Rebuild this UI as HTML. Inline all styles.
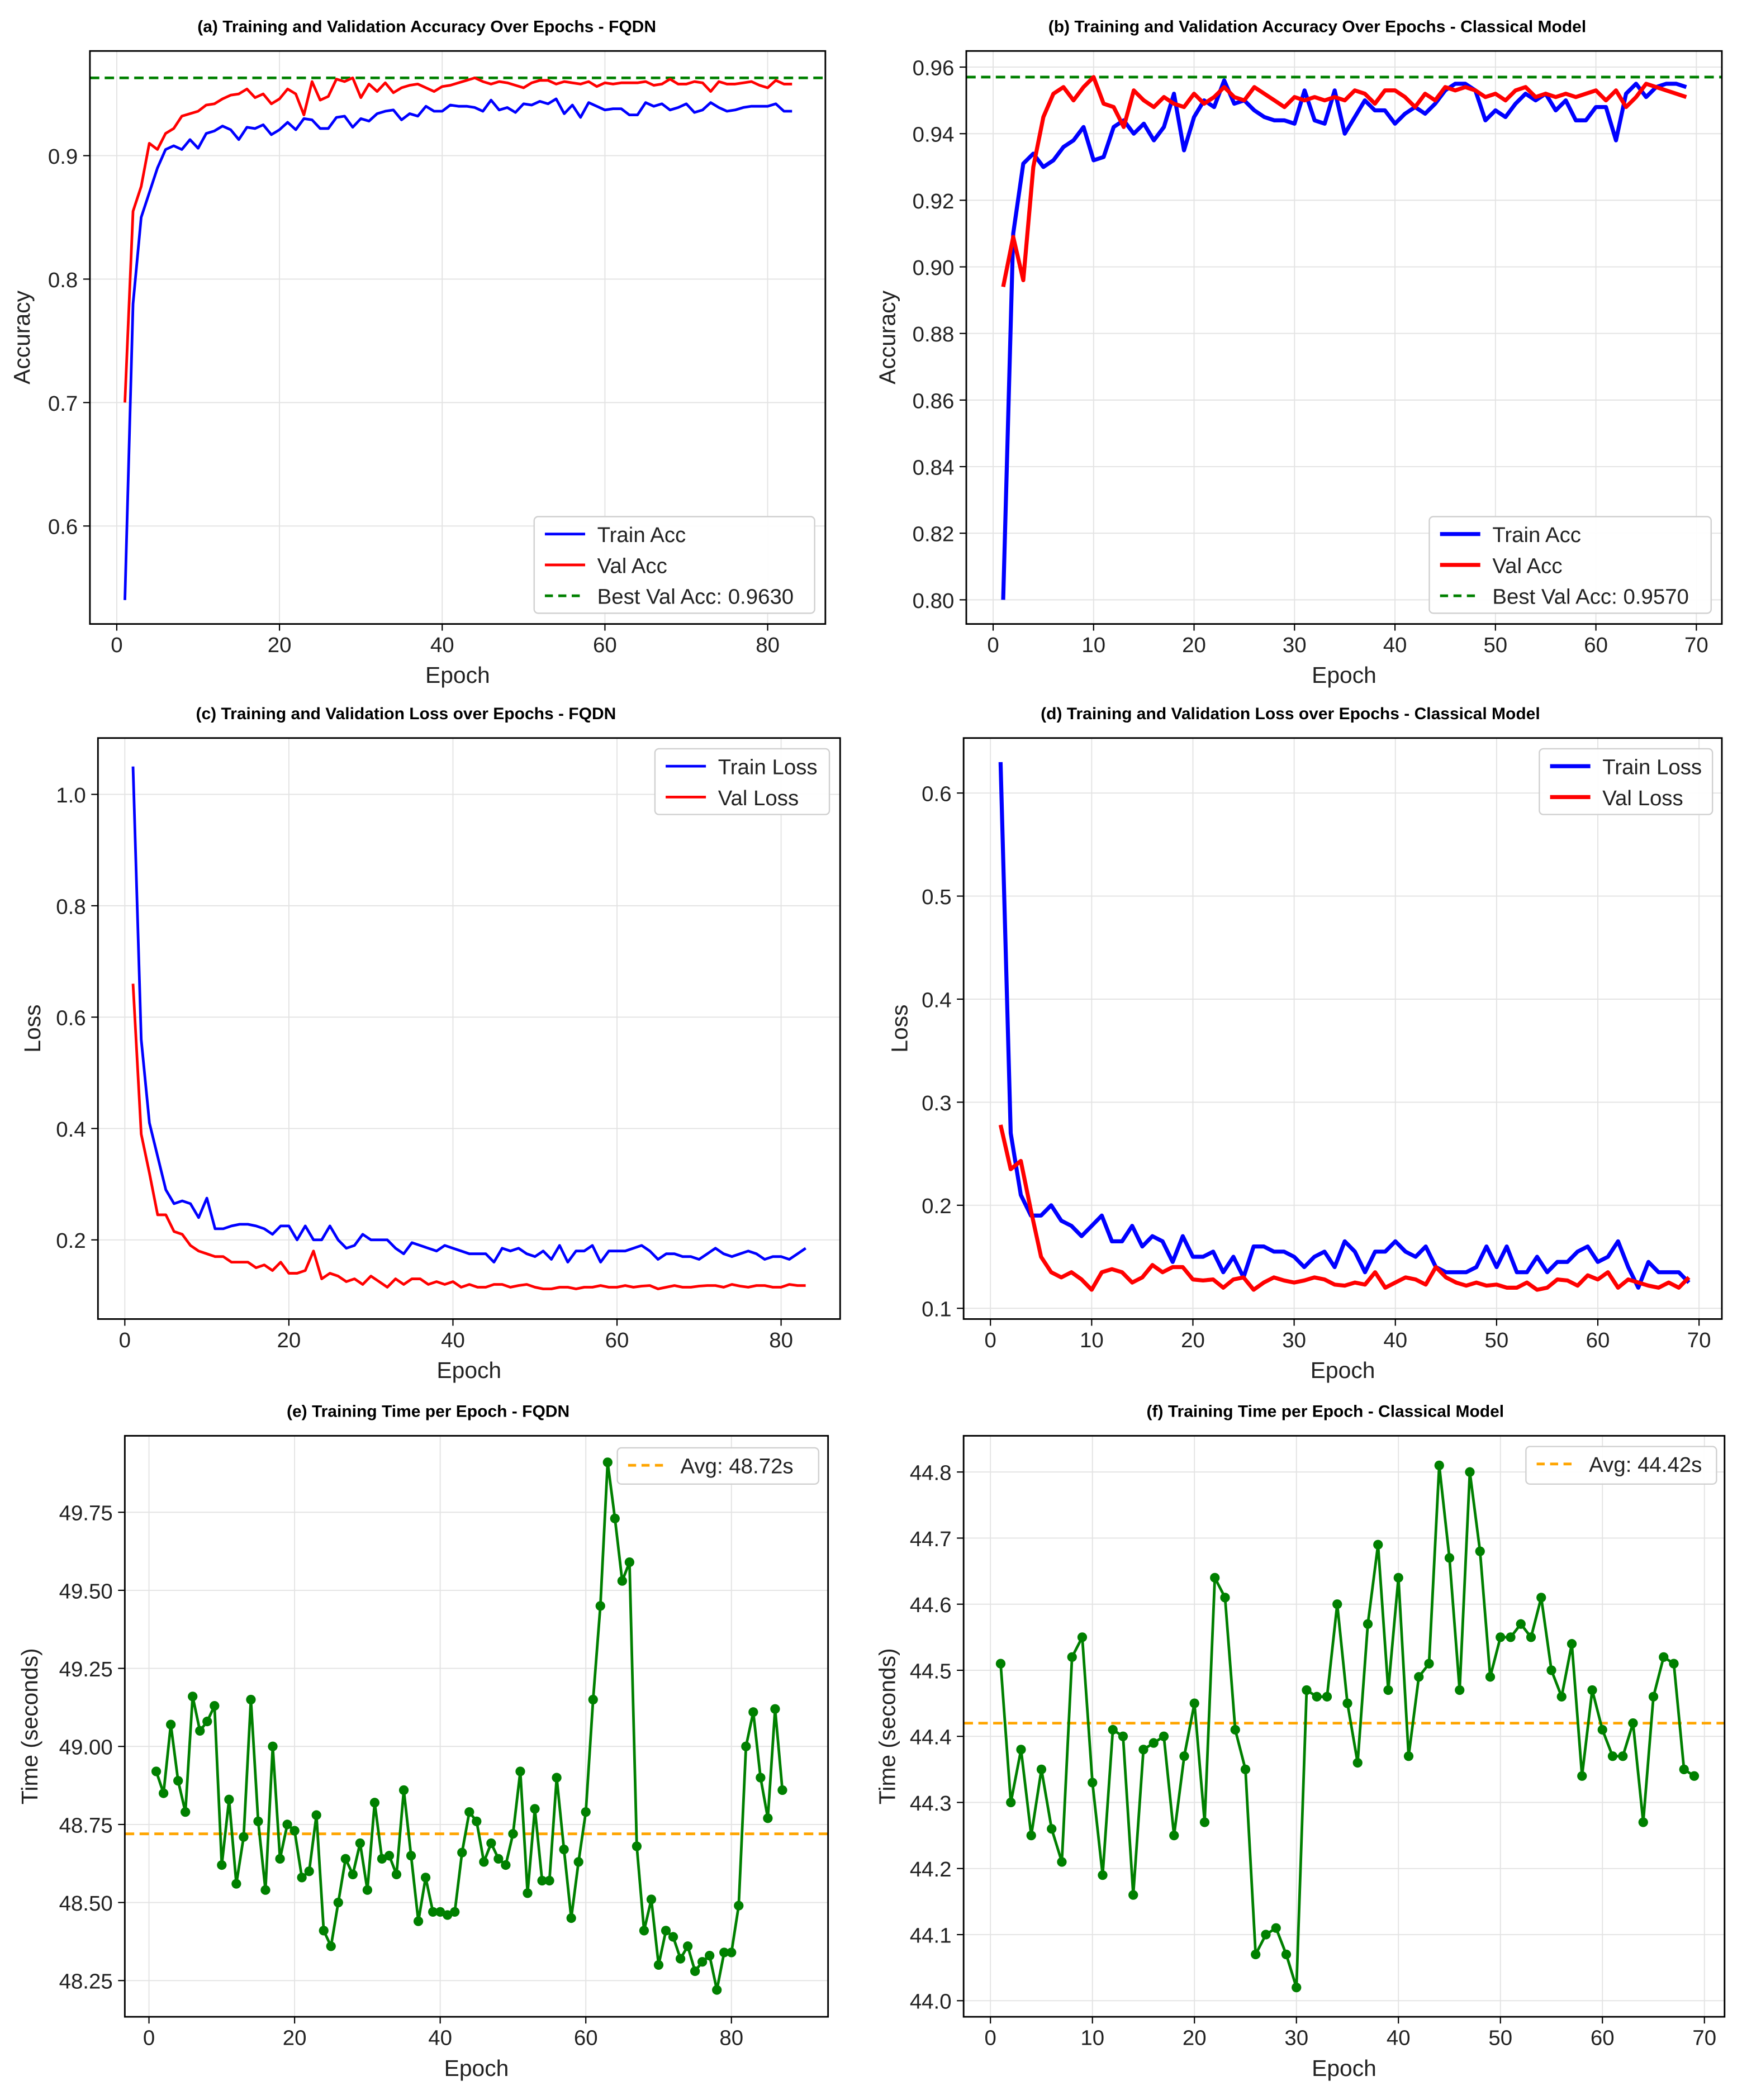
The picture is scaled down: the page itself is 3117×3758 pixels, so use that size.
<!DOCTYPE html>
<html><head><meta charset="utf-8">
<style>
html,body{margin:0;padding:0;background:#fff;}
svg{display:block;}
text{font-family:"Liberation Sans",sans-serif;}
</style></head>
<body>
<svg id="fig" width="3117" height="3758" viewBox="0 0 1298 1565" preserveAspectRatio="none" xmlns="http://www.w3.org/2000/svg"></svg>
<script>
// ---- Data ----
const accFqdnTrain=[0.54,0.78,0.85,0.87,0.89,0.905,0.908,0.905,0.913,0.906,0.918,0.92,0.924,0.921,0.913,0.923,0.922,0.925,0.917,0.921,0.927,0.921,0.93,0.929,0.922,0.922,0.931,0.932,0.923,0.93,0.928,0.934,0.936,0.937,0.929,0.934,0.932,0.94,0.936,0.936,0.941,0.94,0.94,0.939,0.936,0.945,0.937,0.939,0.935,0.942,0.941,0.944,0.942,0.946,0.934,0.941,0.931,0.943,0.94,0.937,0.938,0.938,0.933,0.933,0.943,0.94,0.942,0.937,0.939,0.942,0.935,0.937,0.943,0.939,0.936,0.937,0.939,0.94,0.94,0.94,0.942,0.936,0.936];
const accFqdnVal=[0.70,0.855,0.875,0.91,0.905,0.918,0.922,0.932,0.934,0.936,0.941,0.942,0.946,0.949,0.95,0.954,0.947,0.95,0.942,0.946,0.954,0.95,0.933,0.96,0.945,0.948,0.962,0.96,0.963,0.947,0.958,0.952,0.959,0.951,0.955,0.957,0.958,0.955,0.952,0.956,0.957,0.959,0.961,0.963,0.96,0.958,0.96,0.959,0.957,0.955,0.959,0.961,0.961,0.958,0.96,0.959,0.958,0.96,0.956,0.959,0.958,0.959,0.959,0.959,0.96,0.957,0.958,0.962,0.958,0.958,0.96,0.959,0.952,0.96,0.958,0.958,0.959,0.96,0.957,0.955,0.961,0.958,0.958];
const accFqdnBest=0.9630;
const accClsTrain=[0.80,0.91,0.931,0.934,0.93,0.932,0.936,0.938,0.942,0.932,0.933,0.942,0.944,0.94,0.943,0.938,0.942,0.952,0.935,0.945,0.95,0.948,0.956,0.949,0.95,0.947,0.945,0.944,0.944,0.943,0.953,0.944,0.943,0.953,0.94,0.945,0.95,0.947,0.947,0.943,0.946,0.948,0.946,0.949,0.953,0.955,0.955,0.953,0.944,0.947,0.945,0.949,0.952,0.95,0.952,0.947,0.95,0.944,0.944,0.948,0.948,0.938,0.952,0.955,0.951,0.954,0.955,0.955,0.954];
const accClsVal=[0.894,0.909,0.896,0.93,0.945,0.952,0.954,0.95,0.954,0.957,0.949,0.948,0.942,0.953,0.95,0.948,0.951,0.949,0.948,0.952,0.949,0.951,0.954,0.951,0.95,0.954,0.952,0.95,0.948,0.951,0.95,0.951,0.95,0.951,0.95,0.953,0.952,0.949,0.953,0.953,0.951,0.948,0.952,0.95,0.954,0.953,0.954,0.953,0.951,0.952,0.95,0.953,0.954,0.951,0.952,0.951,0.952,0.951,0.952,0.953,0.95,0.953,0.948,0.951,0.955,0.954,0.953,0.952,0.951];
const accClsBest=0.9570;
const lossFqdnTrain=[1.05,0.56,0.41,0.35,0.29,0.265,0.27,0.265,0.24,0.275,0.22,0.22,0.225,0.228,0.228,0.225,0.22,0.21,0.225,0.225,0.2,0.225,0.2,0.2,0.225,0.2,0.185,0.19,0.21,0.2,0.2,0.2,0.185,0.175,0.195,0.19,0.185,0.18,0.19,0.185,0.18,0.175,0.175,0.175,0.16,0.185,0.18,0.185,0.175,0.17,0.18,0.165,0.19,0.16,0.18,0.18,0.19,0.16,0.18,0.18,0.18,0.185,0.19,0.18,0.165,0.175,0.175,0.17,0.17,0.165,0.175,0.185,0.175,0.17,0.175,0.18,0.175,0.165,0.17,0.17,0.165,0.175,0.185];
const lossFqdnVal=[0.66,0.39,0.32,0.245,0.245,0.215,0.21,0.19,0.18,0.175,0.17,0.17,0.16,0.16,0.16,0.15,0.155,0.145,0.16,0.14,0.14,0.145,0.18,0.13,0.14,0.135,0.125,0.13,0.12,0.135,0.125,0.115,0.13,0.12,0.13,0.13,0.12,0.125,0.12,0.125,0.115,0.12,0.115,0.115,0.12,0.12,0.115,0.118,0.12,0.115,0.112,0.112,0.115,0.115,0.112,0.115,0.115,0.118,0.115,0.115,0.118,0.115,0.117,0.118,0.112,0.115,0.118,0.115,0.115,0.117,0.118,0.118,0.115,0.12,0.117,0.115,0.118,0.118,0.115,0.115,0.12,0.118,0.118];
const lossClsTrain=[0.63,0.27,0.21,0.19,0.19,0.2,0.185,0.18,0.17,0.18,0.19,0.165,0.165,0.18,0.16,0.17,0.165,0.145,0.17,0.15,0.15,0.155,0.135,0.15,0.13,0.16,0.16,0.155,0.155,0.15,0.14,0.15,0.155,0.14,0.165,0.155,0.135,0.155,0.155,0.165,0.155,0.15,0.16,0.14,0.135,0.135,0.135,0.14,0.16,0.14,0.16,0.135,0.135,0.15,0.135,0.145,0.145,0.155,0.16,0.145,0.15,0.165,0.14,0.12,0.145,0.135,0.135,0.135,0.125];
const lossClsVal=[0.278,0.235,0.243,0.195,0.15,0.135,0.13,0.135,0.128,0.118,0.135,0.138,0.135,0.125,0.13,0.142,0.135,0.14,0.14,0.128,0.127,0.128,0.12,0.128,0.13,0.118,0.125,0.13,0.127,0.125,0.127,0.13,0.128,0.123,0.122,0.125,0.123,0.135,0.12,0.125,0.13,0.128,0.123,0.14,0.13,0.125,0.122,0.125,0.122,0.123,0.12,0.12,0.125,0.118,0.12,0.128,0.127,0.122,0.132,0.128,0.135,0.12,0.128,0.125,0.122,0.12,0.125,0.12,0.13];
const timeFqdn=[48.92,48.85,49.07,48.89,48.79,49.16,49.05,49.08,49.13,48.62,48.83,48.56,48.71,49.15,48.76,48.54,49.0,48.64,48.75,48.73,48.58,48.6,48.78,48.41,48.36,48.5,48.64,48.59,48.69,48.54,48.82,48.64,48.65,48.59,48.86,48.65,48.44,48.58,48.47,48.47,48.46,48.47,48.66,48.79,48.76,48.63,48.69,48.64,48.62,48.72,48.92,48.53,48.8,48.57,48.57,48.9,48.67,48.45,48.63,48.79,49.15,49.45,49.91,49.73,49.53,49.59,48.68,48.41,48.51,48.3,48.41,48.39,48.32,48.36,48.28,48.31,48.33,48.22,48.34,48.34,48.49,49.0,49.11,48.9,48.77,49.12,48.86];
const timeFqdnAvg=48.72;
const timeCls=[44.51,44.3,44.38,44.25,44.35,44.26,44.21,44.52,44.55,44.33,44.19,44.41,44.4,44.16,44.38,44.39,44.4,44.25,44.37,44.45,44.27,44.64,44.61,44.41,44.35,44.07,44.1,44.11,44.07,44.02,44.47,44.46,44.46,44.6,44.45,44.36,44.57,44.69,44.47,44.64,44.37,44.49,44.51,44.81,44.67,44.47,44.8,44.68,44.49,44.55,44.55,44.57,44.55,44.61,44.5,44.46,44.54,44.34,44.47,44.41,44.37,44.37,44.42,44.27,44.46,44.52,44.51,44.35,44.34];
const timeClsAvg=44.42;
const ticksX_a=[0,20,40,60,80], ticksY_a=[0.6,0.7,0.8,0.9];
const ticksX_b=[0,10,20,30,40,50,60,70], ticksY_b=[0.80,0.82,0.84,0.86,0.88,0.90,0.92,0.94,0.96];
const ticksX_c=[0,20,40,60,80], ticksY_c=[0.2,0.4,0.6,0.8,1.0];
const ticksX_d=[0,10,20,30,40,50,60,70], ticksY_d=[0.1,0.2,0.3,0.4,0.5,0.6];
const ticksX_e=[0,20,40,60,80], ticksY_e=[48.25,48.5,48.75,49.0,49.25,49.5,49.75];
const ticksX_f=[0,10,20,30,40,50,60,70], ticksY_f=[44.0,44.1,44.2,44.3,44.4,44.5,44.6,44.7,44.8];

const NS="http://www.w3.org/2000/svg";
const svg=document.getElementById('fig');
function mk(tag,attrs,parent){const e=document.createElementNS(NS,tag);for(const k in attrs)e.setAttribute(k,attrs[k]);(parent||svg).appendChild(e);return e;}

function panel(o){
  const g=mk('g',{});
  
  
  const X=v=>o.x0px+(v-o.x0v)*(o.x1px-o.x0px)/(o.x1v-o.x0v);
  const Y=v=>o.y0px+(v-o.y0v)*(o.y1px-o.y0px)/(o.y1v-o.y0v);
  const [L,T,R,B]=o.box;
  o.xt.forEach(t=>{
    const l=mk('line',{x1:X(t),x2:X(t),y1:T,y2:B,stroke:'#e3e3e3','stroke-width':0.8},g);
    
    mk('line',{x1:X(t),x2:X(t),y1:B,y2:B+5,stroke:'#000','stroke-width':0.9},g);
    const tx=mk('text',{x:X(t),y:B+21,'font-size':16,'text-anchor':'middle',fill:'#222'},g);tx.textContent=String(t);
    
  });
  o.yt.forEach(t=>{
    const l=mk('line',{x1:L,x2:R,y1:Y(t),y2:Y(t),stroke:'#e3e3e3','stroke-width':0.8},g);
    
    mk('line',{x1:L-5,x2:L,y1:Y(t),y2:Y(t),stroke:'#000','stroke-width':0.9},g);
    const tx=mk('text',{x:L-9,y:Y(t)+6,'font-size':16,'text-anchor':'end',fill:'#222'},g);tx.textContent=o.yfmt(t);
    
  });
  const cp='clip-'+o.name;
  const defs=mk('defs',{},g);const c=mk('clipPath',{id:cp},defs);mk('rect',{x:L,y:T,width:R-L,height:B-T},c);
  const plot=mk('g',{'clip-path':'url(#'+cp+')'},g);
  (o.hlines||[]).forEach(h=>{
    const l=mk('line',{x1:L,x2:R,y1:Y(h.v),y2:Y(h.v),stroke:h.color,'stroke-width':2,'stroke-dasharray':'7,4'},plot);
    
  });
  o.series.forEach(s=>{
    const pts=s.data.map((v,i)=>X(i+1).toFixed(2)+','+Y(v).toFixed(2)).join(' ');
    const p=mk('polyline',{points:pts,fill:'none',stroke:s.color,'stroke-width':s.w,'stroke-linejoin':'round'},plot);
    
    if(s.markers){s.data.forEach((v,i)=>{const m=mk('circle',{cx:X(i+1),cy:Y(v),r:3.6,fill:s.color},plot);
      });}
  });
  const fr=mk('rect',{x:L,y:T,width:R-L,height:B-T,fill:'none',stroke:'#000','stroke-width':1.2},g);
  
  const ti=mk('text',{x:(L+R)/2+o.titleDx,y:T-14,'font-size':12.5,'font-weight':'bold','text-anchor':'middle',fill:'#000'},g);
  ti.textContent=o.title;
  const xl=mk('text',{x:(L+R)/2,y:B+44,'font-size':17,'text-anchor':'middle',fill:'#222'},g);
  xl.textContent='Epoch';
  const yl=mk('text',{x:0,y:0,'font-size':17,'text-anchor':'middle',fill:'#222',transform:`translate(${o.ylx},${(T+B)/2}) rotate(-90)`},g);
  yl.textContent=o.ylabel;
  const [lx,ly,lw,lh]=o.leg;
  const lg=mk('g',{},g);
  mk('rect',{x:lx,y:ly,width:lw,height:lh,rx:3,fill:'#fff','fill-opacity':0.9,stroke:'#d0d0d0','stroke-width':1},lg);
  o.legItems.forEach((it,i)=>{
    const yy=ly+13+i*23;
    const e=mk('g',{},lg);
    mk('line',{x1:lx+8,x2:lx+38,y1:yy,y2:yy,stroke:it.color,'stroke-width':it.w,'stroke-dasharray':it.dash||'none'},e);
    const t=mk('text',{x:lx+47,y:yy+6,'font-size':16,fill:'#222'},e);t.textContent=it.label;
  });
}
const f2=v=>v.toFixed(2), f1=v=>v.toFixed(1);
panel({name:'panel-a-accuracy-fqdn',box:[67,38,615,465],x0v:0,x0px:87,x1v:80,x1px:572,y0v:0.6,y0px:392,y1v:0.9,y1px:116,
  xt:ticksX_a,yt:ticksY_a,yfmt:f1,title:'(a) Training and Validation Accuracy Over Epochs - FQDN',titleDx:-23,ylabel:'Accuracy',ylx:22,
  hlines:[{v:accFqdnBest,color:'#008000',name:'best-val-line'}],
  series:[{data:accFqdnTrain,color:'#0000ff',w:2,name:'train-acc-line'},{data:accFqdnVal,color:'#ff0000',w:2,name:'val-acc-line'}],
  leg:[398,385,209,72],legItems:[{label:'Train Acc',color:'#0000ff',w:2},{label:'Val Acc',color:'#ff0000',w:2},{label:'Best Val Acc: 0.9630',color:'#008000',w:2,dash:'6,4'}]});
panel({name:'panel-b-accuracy-classical',box:[720,38,1283,465],x0v:0,x0px:740,x1v:70,x1px:1264,y0v:0.80,y0px:447,y1v:0.96,y1px:50,
  xt:ticksX_b,yt:ticksY_b,yfmt:f2,title:'(b) Training and Validation Accuracy Over Epochs - Classical Model',titleDx:-20,ylabel:'Accuracy',ylx:667,
  hlines:[{v:accClsBest,color:'#008000',name:'best-val-line'}],
  series:[{data:accClsTrain,color:'#0000ff',w:3,name:'train-acc-line'},{data:accClsVal,color:'#ff0000',w:3,name:'val-acc-line'}],
  leg:[1065,385,210,72],legItems:[{label:'Train Acc',color:'#0000ff',w:3},{label:'Val Acc',color:'#ff0000',w:3},{label:'Best Val Acc: 0.9570',color:'#008000',w:2,dash:'6,4'}]});
panel({name:'panel-c-loss-fqdn',box:[73,550,626,983],x0v:0,x0px:93,x1v:80,x1px:582,y0v:0.2,y0px:924,y1v:1.0,y1px:592,
  xt:ticksX_c,yt:ticksY_c,yfmt:f1,title:'(c) Training and Validation Loss over Epochs - FQDN',titleDx:-47,ylabel:'Loss',ylx:30,
  series:[{data:lossFqdnTrain,color:'#0000ff',w:2,name:'train-loss-line'},{data:lossFqdnVal,color:'#ff0000',w:2,name:'val-loss-line'}],
  leg:[488,558,130,49],legItems:[{label:'Train Loss',color:'#0000ff',w:2},{label:'Val Loss',color:'#ff0000',w:2}]});
panel({name:'panel-d-loss-classical',box:[718,550,1283,983],x0v:0,x0px:738,x1v:70,x1px:1266,y0v:0.1,y0px:975,y1v:0.6,y1px:591,
  xt:ticksX_d,yt:ticksY_d,yfmt:f1,title:'(d) Training and Validation Loss over Epochs - Classical Model',titleDx:-39,ylabel:'Loss',ylx:676,
  series:[{data:lossClsTrain,color:'#0000ff',w:3,name:'train-loss-line'},{data:lossClsVal,color:'#ff0000',w:3,name:'val-loss-line'}],
  leg:[1147,558,129,49],legItems:[{label:'Train Loss',color:'#0000ff',w:3},{label:'Val Loss',color:'#ff0000',w:3}]});
panel({name:'panel-e-time-fqdn',box:[93,1070,617,1503],x0v:0,x0px:111,x1v:80,x1px:545,y0v:48.25,y0px:1476,y1v:49.75,y1px:1127,
  xt:ticksX_e,yt:ticksY_e,yfmt:f2,title:'(e) Training Time per Epoch - FQDN',titleDx:-36,ylabel:'Time (seconds)',ylx:28,
  hlines:[{v:timeFqdnAvg,color:'#ffa500',name:'avg-time-line'}],
  series:[{data:timeFqdn,color:'#008000',w:2,name:'time-line',markers:true}],
  leg:[460,1079,150,27],legItems:[{label:'Avg: 48.72s',color:'#ffa500',w:2,dash:'6,4'}]});
panel({name:'panel-f-time-classical',box:[718,1070,1285,1503],x0v:0,x0px:738,x1v:70,x1px:1270,y0v:44.0,y0px:1491,y1v:44.8,y1px:1097,
  xt:ticksX_f,yt:ticksY_f,yfmt:f1,title:'(f) Training Time per Epoch - Classical Model',titleDx:-14,ylabel:'Time (seconds)',ylx:667,
  hlines:[{v:timeClsAvg,color:'#ffa500',name:'avg-time-line'}],
  series:[{data:timeCls,color:'#008000',w:2,name:'time-line',markers:true}],
  leg:[1137,1078,142,28],legItems:[{label:'Avg: 44.42s',color:'#ffa500',w:2,dash:'6,4'}]});
</script>
</body></html>
